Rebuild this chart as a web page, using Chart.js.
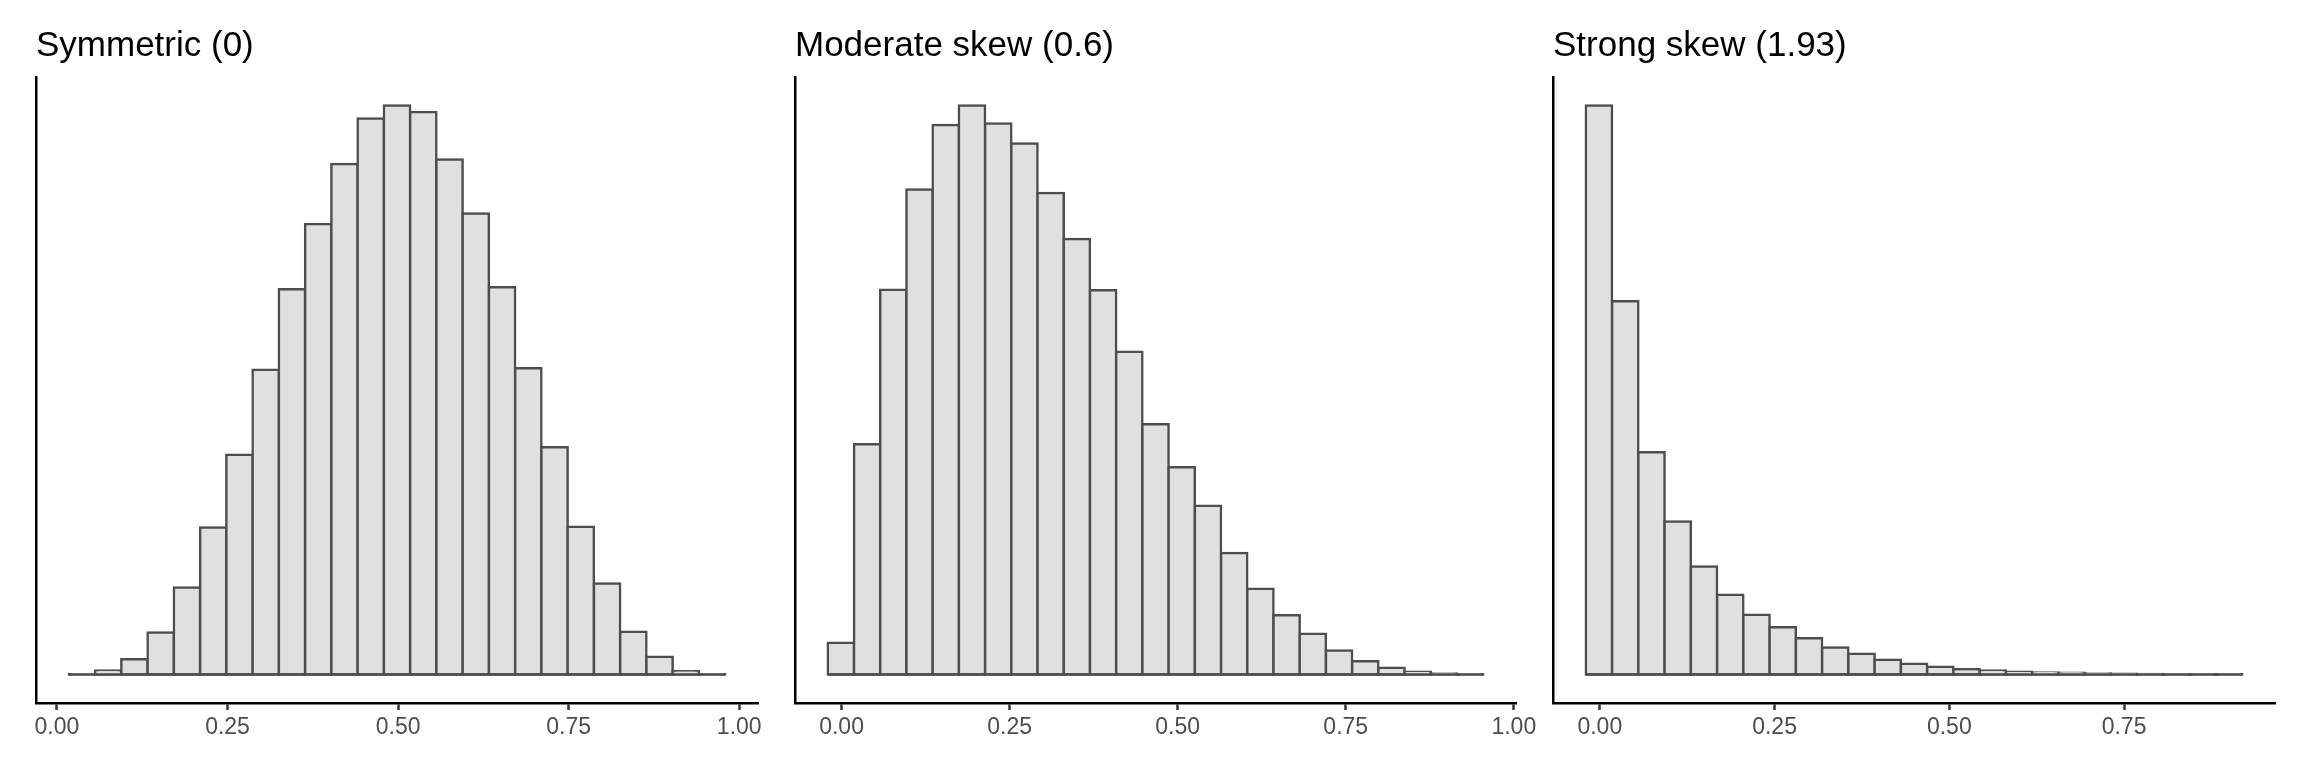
<!DOCTYPE html>
<html><head><meta charset="utf-8">
<script src="https://cdn.jsdelivr.net/npm/chart.js@4.4.1/dist/chart.umd.min.js"></script>
<style>
html,body{margin:0;padding:0;background:#fff;}
body{width:2304px;height:768px;position:relative;overflow:hidden;}
canvas{position:absolute;top:0;}
</style></head><body>
<canvas id="c1" width="742" height="768" style="left:26px"></canvas>
<canvas id="c2" width="756" height="768" style="left:785px"></canvas>
<canvas id="c3" width="742" height="768" style="left:1543px"></canvas>
<script>
// Panel titles
const panelTitles = ['Symmetric (0)', 'Moderate skew (0.6)', 'Strong skew (1.93)'];
// Histogram counts, 25 bins per panel
const symmetricCounts = [0.3, 4, 15.3, 42, 87, 147, 219.5, 304.5, 385, 450, 510, 555.5, 568.5, 562, 514.5, 460.5, 386.8, 306, 227, 147.7, 91, 42.7, 17.7, 3.3, 0.3];
const moderateCounts  = [31.7, 230, 384.5, 484.5, 549, 568.5, 550.5, 530.5, 481, 435, 384, 322.5, 250, 207, 168.7, 121.3, 85.7, 59.3, 40.7, 24, 13.3, 6.7, 2.7, 1, 0.3];
const strongCounts    = [568.5, 373, 222, 153, 108, 79.7, 59.7, 47.3, 36.3, 27, 20.7, 14.7, 10.7, 7.7, 5.3, 4, 2.7, 2, 1.7, 1, 0.7, 0.5, 0.4, 0.3, 0.3];
// Bin breaks: left edge of first bin and bin width per panel
const binStarts = [0.0174, -0.0205, -0.0200];
const binWidths = [0.03848, 0.0390, 0.03756];
// X tick values per panel
const symmetricTicks = [0, 0.25, 0.5, 0.75, 1];
const moderateTicks  = [0, 0.25, 0.5, 0.75, 1];
const strongTicks    = [0, 0.25, 0.5, 0.75];

const FONT = "'Liberation Sans', Arial, Helvetica, sans-serif";
const LW = 2.5;

function makeChart(id, i, counts, ticks, padR) {
  const start = binStarts[i], w = binWidths[i];
  const n = counts.length;
  const pts = counts.map((c, k) => ({x: start + w * (k + 0.5), y: c}));
  const lo = start, hi = start + w * n;
  const span = hi - lo;
  const maxC = Math.max(...counts);
  new Chart(document.getElementById(id), {
    type: 'bar',
    data: {
      datasets: [
        { type: 'line', data: [{x: lo, y: 0}, {x: hi, y: 0}], borderColor: '#4d4d4d', borderWidth: LW,
          pointRadius: 0, order: 0 },
        { type: 'bar', data: pts, backgroundColor: '#e0e0e0', borderColor: '#4d4d4d', borderWidth: LW,
          borderSkipped: false, inflateAmount: LW / 2, barPercentage: 1, categoryPercentage: 1, order: 1 }
      ]
    },
    options: {
      responsive: false, animation: false, devicePixelRatio: 1,
      layout: {padding: {left: 10, right: padR, top: 0, bottom: 0}},
      plugins: {
        legend: {display: false}, tooltip: {enabled: false},
        title: {display: true, text: panelTitles[i], align: 'start', fullSize: false, color: '#000',
          font: {family: FONT, size: 35, weight: 'normal', lineHeight: 1.2}, padding: {top: 25.5, bottom: 9.5}}
      },
      scales: {
        x: {
          type: 'linear', min: lo - 0.05 * span, max: hi + 0.05 * span, offset: false,
          grid: {display: true, drawOnChartArea: false, drawTicks: true, tickLength: 7, tickColor: '#333333', tickWidth: LW, offset: false},
          border: {display: true, color: '#000', width: LW},
          ticks: {autoSkip: false, maxRotation: 0, padding: 4, color: '#4d4d4d',
            font: {family: FONT, size: 23}, callback: v => Number(v).toFixed(2)},
          afterBuildTicks: s => { s.ticks = ticks.map(v => ({value: v})); },
          afterFit: s => { s.height = 65; s.paddingLeft = 0; s.paddingRight = 0; }
        },
        y: {
          min: -0.05 * maxC, max: 1.05 * maxC,
          grid: {display: false}, ticks: {display: false},
          border: {display: true, color: '#000', width: LW},
          afterFit: s => { s.width = 0; }
        }
      }
    }
  });
}

makeChart('c1', 0, symmetricCounts, symmetricTicks, 10);
makeChart('c2', 1, moderateCounts, moderateTicks, 25);
makeChart('c3', 2, strongCounts, strongTicks, 10);
</script>
</body></html>
